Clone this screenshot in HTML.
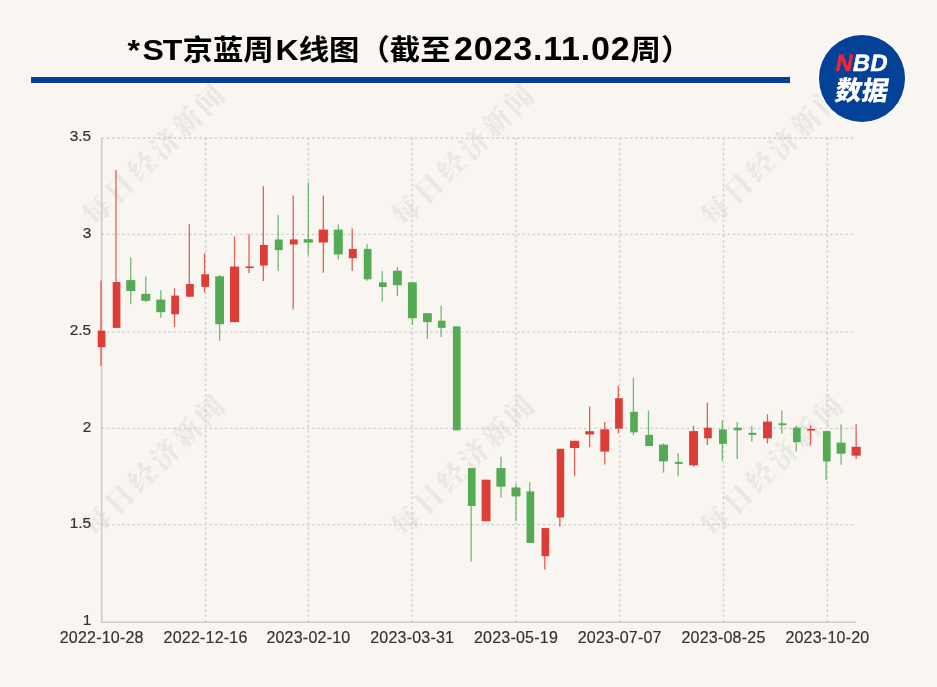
<!DOCTYPE html>
<html lang="zh-CN">
<head>
<meta charset="utf-8">
<title>*ST京蓝周K线图</title>
<style>
html,body{margin:0;padding:0;}
body{width:937px;height:687px;background:#f9f6f1;position:relative;overflow:hidden;font-family:"Liberation Sans","Noto Sans CJK SC",sans-serif;}
.title{position:absolute;left:127.5px;top:25.6px;height:44px;line-height:44px;white-space:nowrap;font-weight:bold;font-size:30.4px;color:#000;transform:scaleY(0.95);transform-origin:0 34px;}
.title .l{font-size:32px;}
.title .s1{letter-spacing:0.57px;}
.title .s2{margin-left:1.8px;}
.title .s3{font-size:34px;margin-left:3.4px;letter-spacing:0.83px;}
.bar{position:absolute;left:31px;top:77.4px;width:758.9px;height:5.3px;background:#044196;}
.logo{position:absolute;left:817.3px;top:33.6px;width:89.4px;height:89.4px;border-radius:50%;background:#fdfcfa;}
.logo i{position:absolute;left:1.3px;top:1.3px;right:1.3px;bottom:1.3px;border-radius:50%;background:#044297;}
.logo .a{position:absolute;left:-0.3px;width:90px;text-align:center;top:17.6px;font:bold 23.5px/24px "Liberation Sans",sans-serif;color:#fff;letter-spacing:0.4px;transform:skewX(-11deg);-webkit-text-stroke:0.5px currentColor;}
.logo .a b{color:#e8283a;}
.logo .b{position:absolute;left:-0.8px;width:90px;text-align:center;top:42.1px;font:bold 26.5px/30px "Liberation Sans","Noto Sans CJK SC",sans-serif;color:#fff;font-weight:900;transform:skewX(-10deg);}
</style>
</head>
<body>
<svg width="937" height="687" viewBox="0 0 937 687" style="position:absolute;left:0;top:0"><g font-family="'Liberation Serif', 'Noto Serif CJK SC', serif" font-weight="900" font-size="27.5" fill="#ebe8e3"><text transform="translate(153.6 155.6) rotate(-44.5)" x="-79.25 -47.55 -15.85 15.85 47.55 79.25" y="0" text-anchor="middle" dominant-baseline="central">每日经济新闻</text><text transform="translate(462.9 155.6) rotate(-44.5)" x="-79.25 -47.55 -15.85 15.85 47.55 79.25" y="0" text-anchor="middle" dominant-baseline="central">每日经济新闻</text><text transform="translate(772.0 155.6) rotate(-44.5)" x="-79.25 -47.55 -15.85 15.85 47.55 79.25" y="0" text-anchor="middle" dominant-baseline="central">每日经济新闻</text><text transform="translate(153.6 466.2) rotate(-44.5)" x="-79.25 -47.55 -15.85 15.85 47.55 79.25" y="0" text-anchor="middle" dominant-baseline="central">每日经济新闻</text><text transform="translate(462.9 466.2) rotate(-44.5)" x="-79.25 -47.55 -15.85 15.85 47.55 79.25" y="0" text-anchor="middle" dominant-baseline="central">每日经济新闻</text><text transform="translate(772.0 466.2) rotate(-44.5)" x="-79.25 -47.55 -15.85 15.85 47.55 79.25" y="0" text-anchor="middle" dominant-baseline="central">每日经济新闻</text></g>
<g stroke="#cecece" stroke-width="1.45" stroke-dasharray="2.5 2.63" fill="none"><line x1="101.7" y1="138.00" x2="856.0" y2="138.00"/><line x1="101.7" y1="234.35" x2="856.0" y2="234.35"/><line x1="101.7" y1="332.10" x2="856.0" y2="332.10"/><line x1="101.7" y1="428.35" x2="856.0" y2="428.35"/><line x1="101.7" y1="524.60" x2="856.0" y2="524.60"/><line x1="205.60" y1="622.2" x2="205.60" y2="138.0"/><line x1="308.40" y1="622.2" x2="308.40" y2="138.0"/><line x1="412.20" y1="622.2" x2="412.20" y2="138.0"/><line x1="516.00" y1="622.2" x2="516.00" y2="138.0"/><line x1="619.70" y1="622.2" x2="619.70" y2="138.0"/><line x1="723.50" y1="622.2" x2="723.50" y2="138.0"/><line x1="827.40" y1="622.2" x2="827.40" y2="138.0"/></g>
<g stroke="#cccccc" stroke-width="1.55" fill="none"><line x1="101.7" y1="138.0" x2="101.7" y2="622.8000000000001"/><line x1="101.10000000000001" y1="622.2" x2="856.0" y2="622.2"/></g>
<g fill="#dc3d37" stroke="#dc3d37"><line x1="100.95" y1="280.6" x2="100.95" y2="366.0" stroke-width="1.3" stroke-opacity="0.82"/><rect x="97.70" y="330.60" width="7.70" height="16.60" stroke="none"/></g><g fill="#dc3d37" stroke="#dc3d37"><line x1="115.95" y1="170.1" x2="115.95" y2="327.9" stroke-width="1.3" stroke-opacity="0.82"/><rect x="112.70" y="282.00" width="7.70" height="45.90" stroke="none"/></g><g fill="#54ab53" stroke="#54ab53"><line x1="130.75" y1="257.4" x2="130.75" y2="304.2" stroke-width="1.3" stroke-opacity="0.82"/><rect x="126.20" y="280.10" width="9.10" height="10.90" stroke="none"/></g><g fill="#54ab53" stroke="#54ab53"><line x1="145.75" y1="276.5" x2="145.75" y2="302.0" stroke-width="1.3" stroke-opacity="0.82"/><rect x="141.20" y="293.80" width="9.10" height="7.00" stroke="none"/></g><g fill="#54ab53" stroke="#54ab53"><line x1="160.80" y1="290.3" x2="160.80" y2="317.7" stroke-width="1.3" stroke-opacity="0.82"/><rect x="156.30" y="299.60" width="9.00" height="12.60" stroke="none"/></g><g fill="#dc3d37" stroke="#dc3d37"><line x1="174.55" y1="288.3" x2="174.55" y2="327.1" stroke-width="1.3" stroke-opacity="0.82"/><rect x="171.30" y="295.60" width="7.70" height="18.70" stroke="none"/></g><g fill="#dc3d37" stroke="#dc3d37"><line x1="189.35" y1="224.3" x2="189.35" y2="296.7" stroke-width="1.3" stroke-opacity="0.82"/><rect x="186.10" y="284.00" width="7.70" height="12.70" stroke="none"/></g><g fill="#dc3d37" stroke="#dc3d37"><line x1="204.55" y1="253.3" x2="204.55" y2="292.2" stroke-width="1.3" stroke-opacity="0.82"/><rect x="201.30" y="274.30" width="7.70" height="12.60" stroke="none"/></g><g fill="#54ab53" stroke="#54ab53"><line x1="219.60" y1="275.0" x2="219.60" y2="340.9" stroke-width="1.3" stroke-opacity="0.82"/><rect x="215.20" y="276.30" width="8.80" height="47.90" stroke="none"/></g><g fill="#dc3d37" stroke="#dc3d37"><line x1="234.55" y1="236.4" x2="234.55" y2="322.1" stroke-width="1.3" stroke-opacity="0.82"/><rect x="230.00" y="266.60" width="9.10" height="55.50" stroke="none"/></g><g fill="#dc3d37" stroke="#dc3d37"><line x1="249.05" y1="234.3" x2="249.05" y2="273.1" stroke-width="1.3" stroke-opacity="0.82"/><rect x="245.60" y="266.40" width="8.10" height="1.70" stroke="none"/></g><g fill="#dc3d37" stroke="#dc3d37"><line x1="263.30" y1="186.1" x2="263.30" y2="280.9" stroke-width="1.3" stroke-opacity="0.82"/><rect x="260.00" y="245.00" width="7.80" height="20.50" stroke="none"/></g><g fill="#54ab53" stroke="#54ab53"><line x1="278.15" y1="215.1" x2="278.15" y2="271.0" stroke-width="1.3" stroke-opacity="0.82"/><rect x="274.80" y="239.50" width="7.90" height="10.60" stroke="none"/></g><g fill="#dc3d37" stroke="#dc3d37"><line x1="293.20" y1="195.5" x2="293.20" y2="309.6" stroke-width="1.3" stroke-opacity="0.82"/><rect x="289.90" y="239.40" width="7.80" height="5.10" stroke="none"/></g><g fill="#54ab53" stroke="#54ab53"><line x1="308.30" y1="182.2" x2="308.30" y2="255.3" stroke-width="1.3" stroke-opacity="0.82"/><rect x="303.70" y="239.20" width="9.20" height="3.40" stroke="none"/></g><g fill="#dc3d37" stroke="#dc3d37"><line x1="323.30" y1="195.5" x2="323.30" y2="272.7" stroke-width="1.3" stroke-opacity="0.82"/><rect x="318.70" y="229.60" width="9.20" height="12.90" stroke="none"/></g><g fill="#54ab53" stroke="#54ab53"><line x1="338.30" y1="224.5" x2="338.30" y2="259.5" stroke-width="1.3" stroke-opacity="0.82"/><rect x="333.80" y="229.60" width="9.00" height="24.80" stroke="none"/></g><g fill="#dc3d37" stroke="#dc3d37"><line x1="352.20" y1="228.4" x2="352.20" y2="271.0" stroke-width="1.3" stroke-opacity="0.82"/><rect x="348.80" y="248.90" width="8.00" height="9.30" stroke="none"/></g><g fill="#54ab53" stroke="#54ab53"><line x1="367.05" y1="244.2" x2="367.05" y2="280.8" stroke-width="1.3" stroke-opacity="0.82"/><rect x="363.80" y="248.90" width="7.70" height="30.40" stroke="none"/></g><g fill="#54ab53" stroke="#54ab53"><line x1="382.25" y1="271.1" x2="382.25" y2="301.6" stroke-width="1.3" stroke-opacity="0.82"/><rect x="379.00" y="282.30" width="7.70" height="4.70" stroke="none"/></g><g fill="#54ab53" stroke="#54ab53"><line x1="397.35" y1="267.3" x2="397.35" y2="296.0" stroke-width="1.3" stroke-opacity="0.82"/><rect x="392.90" y="270.70" width="8.90" height="14.50" stroke="none"/></g><g fill="#54ab53" stroke="#54ab53"><line x1="412.35" y1="282.3" x2="412.35" y2="325.0" stroke-width="1.3" stroke-opacity="0.82"/><rect x="407.90" y="282.30" width="8.90" height="35.90" stroke="none"/></g><g fill="#54ab53" stroke="#54ab53"><line x1="427.40" y1="313.2" x2="427.40" y2="338.7" stroke-width="1.3" stroke-opacity="0.82"/><rect x="423.00" y="313.20" width="8.80" height="8.90" stroke="none"/></g><g fill="#54ab53" stroke="#54ab53"><line x1="441.15" y1="305.7" x2="441.15" y2="337.0" stroke-width="1.3" stroke-opacity="0.82"/><rect x="437.90" y="320.70" width="7.70" height="7.20" stroke="none"/></g><g fill="#54ab53" stroke="#54ab53"><line x1="456.15" y1="326.4" x2="456.15" y2="430.3" stroke-width="1.3" stroke-opacity="0.82"/><rect x="452.90" y="326.40" width="7.70" height="103.90" stroke="none"/></g><g fill="#54ab53" stroke="#54ab53"><line x1="471.15" y1="468.1" x2="471.15" y2="561.4" stroke-width="1.3" stroke-opacity="0.82"/><rect x="467.90" y="468.10" width="7.70" height="37.90" stroke="none"/></g><g fill="#dc3d37" stroke="#dc3d37"><line x1="486.05" y1="479.7" x2="486.05" y2="521.2" stroke-width="1.3" stroke-opacity="0.82"/><rect x="481.60" y="479.70" width="8.90" height="41.50" stroke="none"/></g><g fill="#54ab53" stroke="#54ab53"><line x1="500.95" y1="456.8" x2="500.95" y2="497.5" stroke-width="1.3" stroke-opacity="0.82"/><rect x="496.40" y="468.10" width="9.10" height="18.60" stroke="none"/></g><g fill="#54ab53" stroke="#54ab53"><line x1="516.00" y1="483.7" x2="516.00" y2="520.9" stroke-width="1.3" stroke-opacity="0.82"/><rect x="511.50" y="487.50" width="9.00" height="8.90" stroke="none"/></g><g fill="#54ab53" stroke="#54ab53"><line x1="529.75" y1="482.2" x2="529.75" y2="542.9" stroke-width="1.3" stroke-opacity="0.82"/><rect x="526.50" y="491.40" width="7.70" height="51.50" stroke="none"/></g><g fill="#dc3d37" stroke="#dc3d37"><line x1="544.75" y1="528.1" x2="544.75" y2="569.4" stroke-width="1.3" stroke-opacity="0.82"/><rect x="541.50" y="528.10" width="7.70" height="28.10" stroke="none"/></g><g fill="#dc3d37" stroke="#dc3d37"><line x1="559.85" y1="448.8" x2="559.85" y2="526.4" stroke-width="1.3" stroke-opacity="0.82"/><rect x="556.70" y="448.80" width="7.50" height="68.70" stroke="none"/></g><g fill="#dc3d37" stroke="#dc3d37"><line x1="574.60" y1="440.8" x2="574.60" y2="476.2" stroke-width="1.3" stroke-opacity="0.82"/><rect x="570.00" y="440.80" width="9.20" height="7.20" stroke="none"/></g><g fill="#dc3d37" stroke="#dc3d37"><line x1="589.65" y1="406.5" x2="589.65" y2="447.3" stroke-width="1.3" stroke-opacity="0.82"/><rect x="585.20" y="431.20" width="8.90" height="3.20" stroke="none"/></g><g fill="#dc3d37" stroke="#dc3d37"><line x1="604.75" y1="422.1" x2="604.75" y2="464.4" stroke-width="1.3" stroke-opacity="0.82"/><rect x="600.30" y="429.30" width="8.90" height="22.30" stroke="none"/></g><g fill="#dc3d37" stroke="#dc3d37"><line x1="618.35" y1="385.7" x2="618.35" y2="433.5" stroke-width="1.3" stroke-opacity="0.82"/><rect x="615.10" y="398.20" width="7.70" height="30.40" stroke="none"/></g><g fill="#54ab53" stroke="#54ab53"><line x1="633.40" y1="377.7" x2="633.40" y2="435.4" stroke-width="1.3" stroke-opacity="0.82"/><rect x="630.20" y="411.80" width="7.60" height="20.50" stroke="none"/></g><g fill="#54ab53" stroke="#54ab53"><line x1="648.50" y1="410.6" x2="648.50" y2="446.0" stroke-width="1.3" stroke-opacity="0.82"/><rect x="645.20" y="434.90" width="7.80" height="11.10" stroke="none"/></g><g fill="#54ab53" stroke="#54ab53"><line x1="663.50" y1="443.4" x2="663.50" y2="472.5" stroke-width="1.3" stroke-opacity="0.82"/><rect x="659.00" y="444.60" width="9.00" height="16.80" stroke="none"/></g><g fill="#54ab53" stroke="#54ab53"><line x1="678.15" y1="453.2" x2="678.15" y2="476.2" stroke-width="1.3" stroke-opacity="0.82"/><rect x="674.90" y="461.90" width="7.70" height="2.00" stroke="none"/></g><g fill="#dc3d37" stroke="#dc3d37"><line x1="693.55" y1="425.8" x2="693.55" y2="466.8" stroke-width="1.3" stroke-opacity="0.82"/><rect x="689.10" y="431.10" width="8.90" height="34.20" stroke="none"/></g><g fill="#dc3d37" stroke="#dc3d37"><line x1="707.35" y1="402.8" x2="707.35" y2="445.1" stroke-width="1.3" stroke-opacity="0.82"/><rect x="704.10" y="427.70" width="7.70" height="10.60" stroke="none"/></g><g fill="#54ab53" stroke="#54ab53"><line x1="722.30" y1="420.4" x2="722.30" y2="460.8" stroke-width="1.3" stroke-opacity="0.82"/><rect x="719.00" y="429.40" width="7.80" height="14.50" stroke="none"/></g><g fill="#54ab53" stroke="#54ab53"><line x1="737.20" y1="422.1" x2="737.20" y2="459.1" stroke-width="1.3" stroke-opacity="0.82"/><rect x="733.80" y="427.70" width="8.00" height="2.60" stroke="none"/></g><g fill="#54ab53" stroke="#54ab53"><line x1="751.80" y1="426.0" x2="751.80" y2="441.4" stroke-width="1.3" stroke-opacity="0.82"/><rect x="748.50" y="432.80" width="7.80" height="2.10" stroke="none"/></g><g fill="#dc3d37" stroke="#dc3d37"><line x1="767.45" y1="414.4" x2="767.45" y2="443.4" stroke-width="1.3" stroke-opacity="0.82"/><rect x="763.00" y="421.60" width="8.90" height="16.70" stroke="none"/></g><g fill="#54ab53" stroke="#54ab53"><line x1="781.85" y1="410.6" x2="781.85" y2="433.7" stroke-width="1.3" stroke-opacity="0.82"/><rect x="778.50" y="423.30" width="7.90" height="1.90" stroke="none"/></g><g fill="#54ab53" stroke="#54ab53"><line x1="796.25" y1="425.5" x2="796.25" y2="451.5" stroke-width="1.3" stroke-opacity="0.82"/><rect x="793.00" y="427.70" width="7.70" height="14.50" stroke="none"/></g><g fill="#dc3d37" stroke="#dc3d37"><line x1="810.50" y1="425.5" x2="810.50" y2="445.5" stroke-width="1.3" stroke-opacity="0.82"/><rect x="807.20" y="428.90" width="7.80" height="1.70" stroke="none"/></g><g fill="#54ab53" stroke="#54ab53"><line x1="826.15" y1="431.1" x2="826.15" y2="480.1" stroke-width="1.3" stroke-opacity="0.82"/><rect x="822.90" y="431.10" width="7.70" height="30.30" stroke="none"/></g><g fill="#54ab53" stroke="#54ab53"><line x1="841.10" y1="424.3" x2="841.10" y2="464.8" stroke-width="1.3" stroke-opacity="0.82"/><rect x="836.60" y="442.60" width="9.00" height="11.10" stroke="none"/></g><g fill="#dc3d37" stroke="#dc3d37"><line x1="856.15" y1="424.3" x2="856.15" y2="459.3" stroke-width="1.3" stroke-opacity="0.82"/><rect x="851.60" y="446.80" width="9.10" height="8.90" stroke="none"/></g>
<g font-family="'Liberation Sans', sans-serif" font-size="16" letter-spacing="0.22" fill="#333333" stroke="#333333" stroke-width="0.2"><text x="91.2" y="141.2" text-anchor="end" font-size="15.4" letter-spacing="0">3.5</text><text x="91.2" y="237.5" text-anchor="end" font-size="15.4" letter-spacing="0">3</text><text x="91.2" y="335.3" text-anchor="end" font-size="15.4" letter-spacing="0">2.5</text><text x="91.2" y="431.6" text-anchor="end" font-size="15.4" letter-spacing="0">2</text><text x="91.2" y="527.8" text-anchor="end" font-size="15.4" letter-spacing="0">1.5</text><text x="91.2" y="625.4" text-anchor="end" font-size="15.4" letter-spacing="0">1</text><text x="101.7" y="643" text-anchor="middle">2022-10-28</text><text x="205.6" y="643" text-anchor="middle">2022-12-16</text><text x="308.4" y="643" text-anchor="middle">2023-02-10</text><text x="412.2" y="643" text-anchor="middle">2023-03-31</text><text x="516.0" y="643" text-anchor="middle">2023-05-19</text><text x="619.7" y="643" text-anchor="middle">2023-07-07</text><text x="723.5" y="643" text-anchor="middle">2023-08-25</text><text x="827.4" y="643" text-anchor="middle">2023-10-20</text></g></svg>
<div class="title"><span class="l"><span style="letter-spacing:2.5px">*</span><span style="letter-spacing:-1px">S</span><span style="letter-spacing:0.2px">T</span></span>京蓝周<span class="l s2">K</span>线图（截至<span class="l s3">2023.11.02</span>周）</div>
<div class="bar"></div>
<div class="logo"><i></i><div class="a"><b>N</b>BD</div><div class="b">数据</div></div>
</body>
</html>
